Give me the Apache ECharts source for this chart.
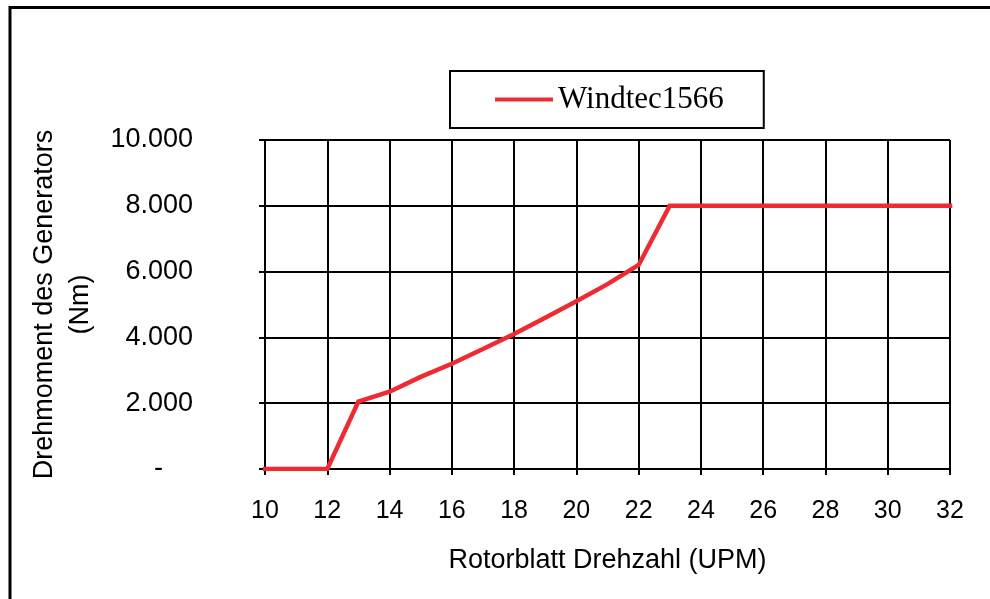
<!DOCTYPE html>
<html>
<head>
<meta charset="utf-8">
<title>Windtec1566</title>
<script src="https://cdn.jsdelivr.net/npm/echarts@6/dist/echarts.min.js"></script>
<style>
  html, body { margin: 0; padding: 0; background: #fff; }
  #chart { width: 990px; height: 599px; }
</style>
</head>
<body>
<div id="chart"></div>
<script>
// Rotorblatt Drehzahl (UPM)
var rpm = [10, 11, 12, 13, 14, 15, 16, 17, 18, 19, 20, 21, 22, 23, 24, 25, 26, 27, 28, 29, 30, 31, 32]
// Drehmoment des Generators (Nm)
var torque = [0, 0, 0, 2050, 2350, 2800, 3200, 3650, 4100, 4600, 5100, 5620, 6200, 8000, 8000, 8000, 8000, 8000, 8000, 8000, 8000, 8000, 8000]
var seriesName = 'Windtec1566'

var points = []
for (let i = 0; i < rpm.length; i++) {
  points.push([rpm[i], torque[i]])
}

function fmtThousands(v) {
  if (v === 0) return '-    '
  return String(v).replace(/\B(?=(\d{3})+(?!\d))/g, '.')
}

var chart = echarts.init(document.getElementById('chart'), null, { renderer: 'canvas' })

var option = {
  animation: false,
  backgroundColor: '#fff',
  grid: {
    left: 265,
    right: 40,
    top: 140,
    bottom: 130
  },
  legend: {
    data: [seriesName],
    left: 450,
    top: 71,
    padding: [13, 40, 13, 45],
    borderColor: '#000',
    borderWidth: 2,
    icon: 'rect',
    itemWidth: 58,
    itemHeight: 4,
    itemGap: 8,
    textStyle: {
      fontFamily: 'Liberation Serif',
      fontSize: 31,
      color: '#000',
      lineHeight: 31
    }
  },
  xAxis: {
    type: 'value',
    min: 10,
    max: 32,
    interval: 2,
    name: 'Rotorblatt Drehzahl (UPM)',
    nameLocation: 'middle',
    nameGap: 78,
    nameTextStyle: { fontFamily: 'Liberation Sans', fontSize: 27, color: '#000' },
    axisLine: { lineStyle: { color: '#000', width: 2 } },
    axisTick: { show: true, length: 6, lineStyle: { color: '#000', width: 2 } },
    axisLabel: { margin: 30, fontFamily: 'Liberation Sans', fontSize: 25, color: '#000' },
    splitLine: { show: true, lineStyle: { color: '#000', width: 2 } }
  },
  yAxis: {
    type: 'value',
    min: 0,
    max: 10000,
    interval: 2000,
    name: 'Drehmoment des Generators\n(Nm)',
    nameLocation: 'middle',
    nameGap: 166,
    nameTextStyle: { fontFamily: 'Liberation Sans', fontSize: 27, color: '#000', lineHeight: 36, align: 'center' },
    axisLine: { show: true, lineStyle: { color: '#000', width: 2 } },
    axisTick: { show: true, length: 6, lineStyle: { color: '#000', width: 2 } },
    axisLabel: { margin: 72, fontFamily: 'Liberation Sans', fontSize: 27, color: '#000', formatter: fmtThousands },
    splitLine: { show: true, lineStyle: { color: '#000', width: 2 } }
  },
  series: [{
    name: seriesName,
    type: 'line',
    data: points,
    symbol: 'none',
    color: '#ee2a33',
    lineStyle: { color: '#ee2a33', width: 4.5, cap: 'square', join: 'miter' },
    z: 5
  }],
  graphic: [
    {
      type: 'polyline',
      shape: { points: [[10, 599], [10, 7.5], [990, 7.5]] },
      style: { stroke: '#000', lineWidth: 3, fill: null },
      silent: true
    }
  ]
}

chart.setOption(option)
</script>
</body>
</html>
